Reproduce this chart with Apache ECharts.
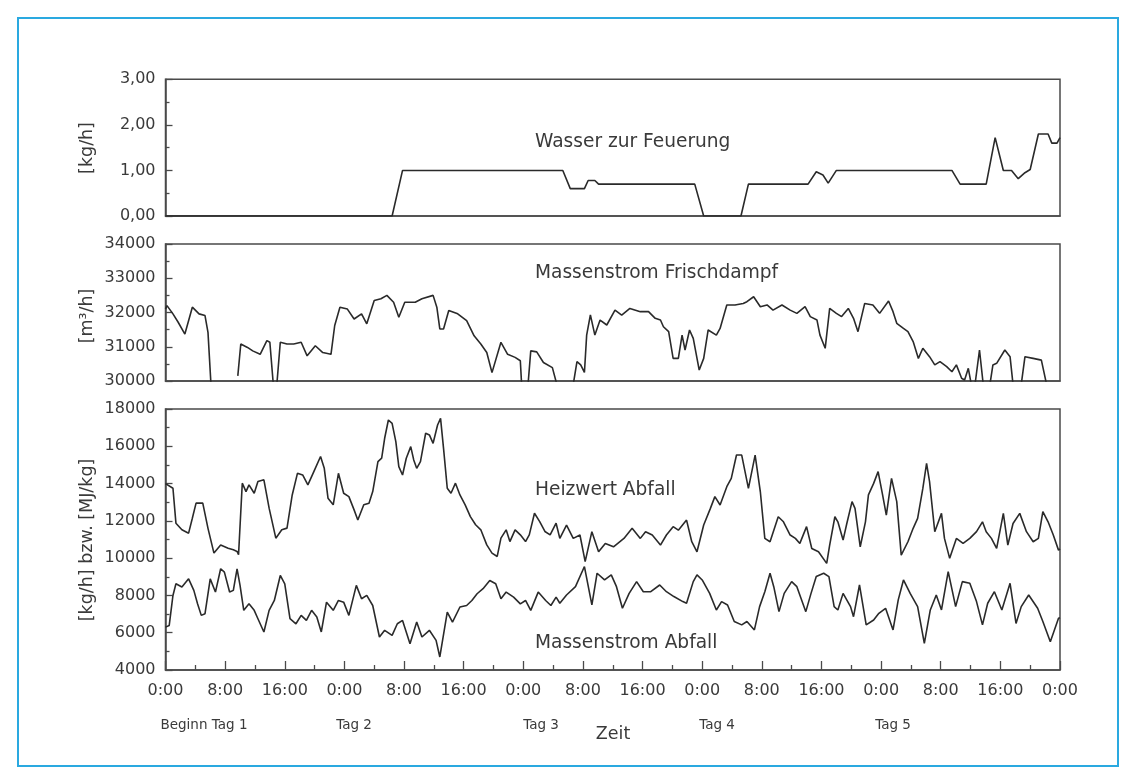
<!DOCTYPE html>
<html>
<head>
<meta charset="utf-8">
<script src="https://cdn.jsdelivr.net/npm/echarts@6/dist/echarts.min.js"></script>
<style>
  html, body { margin: 0; padding: 0; background: #fff; }
  #chart { width: 1135px; height: 783px; }
</style>
</head>
<body>
<div id="chart"></div>
<script>
// Time axis: hours since start of day 1, five days, labelled every 8 h
const hourTicks = [0, 8, 16, 24, 32, 40, 48, 56, 64, 72, 80, 88, 96, 104, 112, 120];
const dayLabels = ['Beginn Tag 1', 'Tag 2', 'Tag 3', 'Tag 4', 'Tag 5'];

// Wasser zur Feuerung [kg/h] — [hour, value]
const wasserFeuerung = [
  [0, 0], [30.4, 0], [31.8, 1.0], [53.3, 1.0], [54.3, 0.6], [56.2, 0.6], [56.7, 0.78], [57.6, 0.78],
  [58.1, 0.7], [71.0, 0.7], [72.2, 0], [77.2, 0], [78.2, 0.7], [86.2, 0.7], [87.3, 0.97], [88.2, 0.9],
  [88.9, 0.72], [90.0, 1.0], [105.5, 1.0], [106.6, 0.7], [110.1, 0.7], [111.3, 1.72], [112.4, 1.0],
  [113.5, 1.0], [114.4, 0.82], [115.3, 0.95], [116.0, 1.02], [117.1, 1.8], [118.4, 1.8], [118.9, 1.6],
  [119.6, 1.6], [120, 1.72]
];

// Massenstrom Frischdampf [m³/h] — null marks interruptions below the axis range
const frischdampf = [
  [0, 32100], [0.2, 32200], [1.0, 31960], [1.7, 31715], [2.6, 31370], [3.6, 32155], [4.5, 31960],
  [5.3, 31910], [5.7, 31420], [6.1, 29900], [6.2, null],
  [9.7, 30150], [10.1, 31080], [11.0, 30980], [11.7, 30880], [12.7, 30780], [13.6, 31180], [14.0, 31130],
  [14.5, 29800], [14.9, 29800], [15.4, 31130], [16.3, 31080], [17.2, 31080], [18.2, 31130], [19.0, 30735],
  [20.1, 31030], [21.1, 30830], [22.2, 30780], [22.7, 31620], [23.4, 32155], [24.4, 32100], [25.3, 31810],
  [26.3, 31960], [27.0, 31670], [28.0, 32350], [28.9, 32400], [29.7, 32500], [30.6, 32300], [31.3, 31860],
  [32.1, 32300], [33.5, 32300], [34.4, 32400], [35.9, 32500], [36.4, 32155], [36.8, 31520], [37.3, 31520],
  [38.0, 32060], [39.2, 31960], [40.4, 31760], [41.4, 31320], [42.3, 31080], [43.1, 30830], [43.8, 30245],
  [45.0, 31130], [45.9, 30780], [46.9, 30690], [47.6, 30590], [47.8, 29800], [48.6, 29800], [49.0, 30880],
  [49.8, 30850], [50.7, 30540], [51.9, 30390], [52.5, 29900], [52.6, null],
  [54.7, 29900], [55.2, 30565], [55.7, 30470], [56.2, 30250], [56.5, 31340], [57.0, 31930], [57.6, 31340],
  [58.3, 31780], [59.2, 31635], [60.3, 32070], [61.2, 31925], [62.3, 32120], [63.7, 32025], [64.8, 32025],
  [65.7, 31830], [66.4, 31780], [66.8, 31585], [67.5, 31440], [68.1, 30660], [68.8, 30660], [69.3, 31340],
  [69.7, 30905], [70.3, 31490], [70.8, 31245], [71.6, 30320], [72.2, 30660], [72.8, 31490], [73.9, 31340],
  [74.4, 31535], [75.3, 32220], [76.4, 32220], [77.5, 32265], [78.0, 32315], [78.9, 32460], [79.8, 32170],
  [80.7, 32220], [81.5, 32070], [82.7, 32220], [83.8, 32070], [84.7, 31975], [85.8, 32170], [86.5, 31880],
  [87.4, 31780], [87.8, 31340], [88.5, 30955], [89.1, 32120], [90.0, 31975], [90.7, 31880], [91.6, 32120],
  [92.3, 31830], [92.9, 31440], [93.8, 32265], [94.9, 32220], [95.8, 31975], [97.0, 32335], [97.6, 32025],
  [98.1, 31685], [99.0, 31535], [99.6, 31440], [100.3, 31150], [101.0, 30660], [101.6, 30955], [102.5, 30710],
  [103.2, 30470], [103.9, 30565], [104.8, 30420], [105.5, 30270], [106.1, 30470], [106.8, 30080],
  [107.2, 30030], [107.7, 30370], [108.1, 29900], [108.6, 29900], [109.2, 30905], [109.7, 29900],
  [110.6, 29900], [111.0, 30470], [111.5, 30515], [112.6, 30905], [113.3, 30710], [113.7, 29900],
  [113.8, null], [114.8, 29900], [115.3, 30710], [116.4, 30660], [117.5, 30610], [118.2, 29900], [118.3, null]
];

// Heizwert Abfall
const heizwert = [
  [0, 14000], [0.2, 14020], [1.0, 13750], [1.4, 11875], [2.2, 11520], [3.1, 11340], [3.6, 12140],
  [4.1, 12950], [5.0, 12950], [5.7, 11600], [6.5, 10270], [7.4, 10710], [8.4, 10535], [9.1, 10445],
  [9.6, 10360], [9.8, 10180], [10.3, 14020], [10.8, 13570], [11.2, 13930], [11.9, 13480], [12.4, 14110],
  [13.2, 14200], [13.9, 12680], [14.8, 11070], [15.6, 11520], [16.3, 11610], [17.0, 13390], [17.7, 14550],
  [18.4, 14460], [19.1, 13930], [19.9, 14640], [20.8, 15450], [21.3, 14820], [21.8, 13215], [22.5, 12860],
  [23.2, 14550], [23.9, 13480], [24.6, 13300], [25.3, 12590], [25.8, 12050], [26.6, 12860], [27.3, 12950],
  [27.8, 13570], [28.5, 15180], [29.0, 15360], [29.4, 16430], [29.9, 17410], [30.4, 17230], [30.9, 16250],
  [31.3, 14910], [31.8, 14460], [32.3, 15360], [32.9, 15980], [33.3, 15270], [33.7, 14820], [34.2, 15180],
  [34.9, 16700], [35.4, 16610], [35.9, 16160], [36.5, 17140], [36.9, 17500], [37.3, 15890], [37.8, 13750],
  [38.3, 13480], [38.9, 14020], [39.5, 13390], [40.2, 12860], [40.9, 12230], [41.6, 11790], [42.3, 11520],
  [43.1, 10710], [43.8, 10270], [44.5, 10090], [45.0, 11070], [45.7, 11520], [46.2, 10890], [46.9, 11520],
  [47.6, 11250], [48.3, 10890], [48.8, 11250], [49.5, 12410], [50.2, 11960], [50.9, 11430], [51.6, 11250],
  [52.4, 11875], [52.9, 11060], [53.8, 11775], [54.7, 11060], [55.6, 11240], [56.3, 9810], [57.2, 11420],
  [58.1, 10340], [59.0, 10790], [60.1, 10610], [61.5, 11060], [62.6, 11600], [63.7, 11060], [64.4, 11420],
  [65.3, 11240], [66.4, 10700], [67.2, 11240], [68.1, 11690], [68.8, 11500], [69.9, 12040], [70.6, 10880],
  [71.3, 10340], [72.2, 11775], [73.1, 12670], [73.7, 13300], [74.4, 12850], [75.3, 13830], [75.9, 14280],
  [76.6, 15530], [77.3, 15530], [78.2, 13740], [79.1, 15530], [79.8, 13560], [80.4, 11060], [81.1, 10880],
  [82.2, 12220], [82.9, 11950], [83.8, 11240], [84.5, 11060], [85.1, 10790], [86.0, 11690], [86.7, 10520],
  [87.6, 10340], [88.7, 9720], [89.1, 10700], [89.8, 12220], [90.2, 11950], [90.9, 10970], [91.4, 11860],
  [92.1, 13030], [92.5, 12670], [93.2, 10610], [93.9, 11950], [94.3, 13390], [95.0, 14010], [95.6, 14640],
  [96.2, 13390], [96.7, 12310], [97.4, 14280], [98.1, 13030], [98.7, 10160], [99.6, 10880], [100.3, 11600],
  [100.9, 12130], [101.6, 13740], [102.1, 15080], [102.5, 14100], [103.2, 11420], [104.1, 12400],
  [104.5, 11060], [105.2, 9990], [106.1, 11060], [107.0, 10790], [107.9, 11060], [108.8, 11420],
  [109.6, 11950], [110.1, 11420], [110.8, 11060], [111.5, 10520], [112.4, 12400], [113.0, 10700],
  [113.7, 11860], [114.6, 12400], [115.5, 11420], [116.4, 10880], [117.1, 11060], [117.7, 12490],
  [118.4, 11950], [119.1, 11240], [119.8, 10430], [120, 10500]
];

// Massenstrom Abfall
const massenstromAbfall = [
  [0, 6300], [0.5, 6390], [1.0, 8000], [1.4, 8625], [2.2, 8450], [3.1, 8890], [3.8, 8270], [4.3, 7550],
  [4.8, 6930], [5.3, 7020], [6.0, 8890], [6.7, 8180], [7.4, 9430], [7.9, 9250], [8.6, 8180], [9.1, 8270],
  [9.6, 9430], [10.0, 8540], [10.5, 7200], [11.2, 7550], [11.9, 7200], [12.4, 6750], [13.2, 6040],
  [13.9, 7200], [14.6, 7730], [15.4, 9070], [16.0, 8625], [16.7, 6750], [17.5, 6480], [18.2, 6930],
  [18.9, 6660], [19.6, 7200], [20.3, 6840], [20.9, 6040], [21.6, 7640], [22.5, 7200], [23.2, 7730],
  [23.9, 7640], [24.6, 6930], [25.6, 8540], [26.3, 7820], [27.0, 8000], [27.8, 7460], [28.7, 5770],
  [29.4, 6130], [30.4, 5860], [31.1, 6480], [31.8, 6660], [32.8, 5410], [33.7, 6570], [34.4, 5770],
  [35.4, 6130], [36.3, 5590], [36.8, 4700], [37.8, 7110], [38.5, 6570], [39.5, 7380], [40.4, 7460],
  [41.1, 7730], [41.8, 8090], [42.6, 8360], [43.5, 8800], [44.3, 8625], [45.0, 7820], [45.7, 8180],
  [46.7, 7910], [47.6, 7550], [48.3, 7730], [49.0, 7200], [50.0, 8180], [51.0, 7730], [51.7, 7460],
  [52.4, 7910], [52.9, 7580], [53.8, 8025], [55.0, 8470], [56.2, 9550], [57.2, 7490], [57.9, 9190],
  [58.9, 8830], [59.8, 9100], [60.5, 8470], [61.3, 7310], [62.2, 8110], [63.2, 8740], [64.1, 8200],
  [65.1, 8200], [66.3, 8560], [67.2, 8200], [68.2, 7940], [69.4, 7670], [69.9, 7580], [70.8, 8740],
  [71.3, 9100], [72.0, 8830], [73.0, 8110], [73.9, 7220], [74.6, 7670], [75.4, 7490], [76.3, 6600],
  [77.3, 6420], [78.0, 6600], [79.0, 6150], [79.7, 7400], [80.4, 8200], [81.1, 9190], [81.6, 8470],
  [82.3, 7130], [83.0, 8110], [84.0, 8740], [84.7, 8470], [85.9, 7130], [86.6, 8110], [87.3, 9010],
  [88.3, 9190], [89.0, 9010], [89.7, 7400], [90.2, 7220], [90.9, 8110], [91.9, 7400], [92.3, 6860],
  [93.1, 8560], [94.0, 6420], [95.0, 6680], [95.7, 7040], [96.6, 7310], [97.6, 6150], [98.3, 7760],
  [99.0, 8830], [99.9, 8110], [100.9, 7400], [101.8, 5430], [102.6, 7220], [103.4, 8025], [104.1, 7220],
  [105.0, 9280], [106.0, 7400], [106.9, 8740], [107.9, 8650], [108.8, 7670], [109.6, 6420], [110.3, 7580],
  [111.2, 8200], [112.2, 7220], [113.3, 8650], [114.1, 6500], [114.8, 7400], [115.8, 8025], [117.0, 7310],
  [117.7, 6600], [118.7, 5520], [119.1, 5970], [119.8, 6770], [120, 6800]
];

const FONT = '"DejaVu Sans", "Liberation Sans", Arial, sans-serif';
const INK = '#2a2a2a';
const FRAME = '#4a4a4a';
const LABEL = '#3a3a3a';

const chart = echarts.init(document.getElementById('chart'), null, { renderer: 'canvas' });

// Plot panels share the horizontal extent; heights differ per panel
const plotLeft = 165.5, plotWidth = 894.5;
const panels = [
  { top: 79.3, height: 136.7 },
  { top: 244, height: 137 },
  { top: 409, height: 261 }
];

function hourLabel(v) { return (v % 24) + ':00'; }
function commaDecimals(v) { return v.toFixed(2).replace('.', ','); }
function plainInteger(v) { return String(Math.round(v)); }

const grids = panels.map(p => ({
  left: plotLeft, top: p.top, width: plotWidth, height: p.height,
  show: true, borderColor: FRAME, borderWidth: 1.5, backgroundColor: 'transparent'
}));

const xAxes = panels.map((p, i) => ({
  type: 'value', gridIndex: i, min: 0, max: 120, interval: 8,
  axisLine: { show: true, lineStyle: { color: FRAME, width: 1.5 } },
  axisTick: { show: i === 2, inside: true, length: 9, lineStyle: { color: FRAME, width: 1.3 } },
  minorTick: { show: i === 2, splitNumber: 2, length: 5, lineStyle: { color: FRAME, width: 1.3 } },
  axisLabel: {
    show: i === 2, margin: 13, color: LABEL, fontFamily: FONT, fontSize: 16,
    formatter: hourLabel
  },
  splitLine: { show: false }
}));

const yCommon = {
  type: 'value',
  axisLine: { show: true, lineStyle: { color: FRAME, width: 1.5 } },
  axisTick: { show: true, inside: true, length: 7, lineStyle: { color: FRAME, width: 1.3 } },
  minorTick: { show: true, splitNumber: 2, length: 4, lineStyle: { color: FRAME, width: 1.3 } },
  splitLine: { show: false }
};
function yLabel(fmt) {
  return { margin: 10, color: LABEL, fontFamily: FONT, fontSize: 16, formatter: fmt };
}

const yAxes = [
  Object.assign({}, yCommon, { gridIndex: 0, min: 0, max: 3, interval: 1, axisLabel: yLabel(commaDecimals) }),
  Object.assign({}, yCommon, { gridIndex: 1, min: 30000, max: 34000, interval: 1000, axisLabel: yLabel(plainInteger) }),
  Object.assign({}, yCommon, { gridIndex: 2, min: 4000, max: 18000, interval: 2000, axisLabel: yLabel(plainInteger) })
];

function lineSeries(name, data, idx) {
  return {
    name, type: 'line', data, xAxisIndex: idx, yAxisIndex: idx,
    showSymbol: false, symbol: 'none', clip: true, connectNulls: false,
    lineStyle: { color: INK, width: 1.6 }, silent: true, animation: false
  };
}

// Text placed on the page: panel captions, day markers, axis titles
const textEls = [];
function addText(text, x, y, size, align, rotation) {
  textEls.push({
    type: 'text', x, y, rotation: rotation || 0, silent: true,
    style: { text, fill: LABEL, font: size + 'px ' + FONT, textAlign: align || 'left', textVerticalAlign: 'middle' }
  });
}
addText('Wasser zur Feuerung', 535, 142, 18.6);
addText('Massenstrom Frischdampf', 535, 273, 18.6);
addText('Heizwert Abfall', 535, 490, 18.6);
addText('Massenstrom Abfall', 535, 643, 18.6);

const dayX = [204, 354, 541, 717, 893];
dayLabels.forEach((t, i) => addText(t, dayX[i], 725, 13.5, 'center'));
addText('Zeit', 613, 734, 17.5, 'center');

addText('[kg/h]', 87, 148, 17.5, 'center', Math.PI / 2);
addText('[m³/h]', 87, 316, 17.5, 'center', Math.PI / 2);
addText('[kg/h] bzw. [MJ/kg]', 87, 540, 17.5, 'center', Math.PI / 2);

// Outer frame
textEls.unshift({
  type: 'rect', silent: true, z: -1,
  shape: { x: 18, y: 18, width: 1100, height: 748 },
  style: { fill: 'none', stroke: '#2aa9e0', lineWidth: 2 }
});

chart.setOption({
  animation: false,
  backgroundColor: '#ffffff',
  grid: grids,
  xAxis: xAxes,
  yAxis: yAxes,
  series: [
    lineSeries('Wasser zur Feuerung', wasserFeuerung, 0),
    lineSeries('Massenstrom Frischdampf', frischdampf, 1),
    lineSeries('Heizwert Abfall', heizwert, 2),
    lineSeries('Massenstrom Abfall', massenstromAbfall, 2)
  ],
  graphic: textEls
});
</script>
</body>
</html>
